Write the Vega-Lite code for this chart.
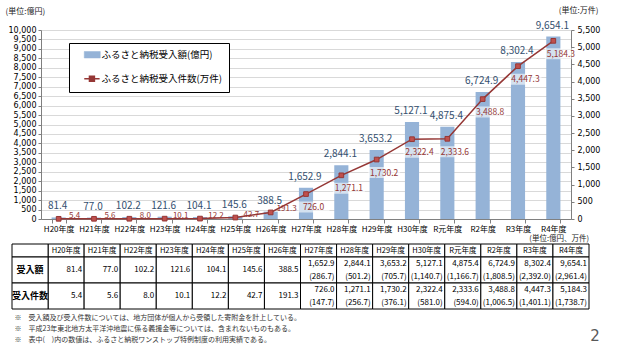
{
  "$schema": "https://vega.github.io/schema/vega-lite/v6.json",
  "padding": {"left": 5, "top": 6, "right": 5, "bottom": 5},
  "spacing": 2,
  "config": {"view": {"stroke": null}, "font": "Noto Sans CJK JP"},
  "title": {"text": "2", "orient": "bottom", "anchor": "end", "fontSize": 15, "fontWeight": "normal", "color": "#595959", "offset": -14, "font": "DejaVu Sans"},
  "datasets": {
    "main": [
      {"year": "H20年度", "amount": 81.4, "count": 5.4, "amountOS": null, "countOS": null},
      {"year": "H21年度", "amount": 77.0, "count": 5.6, "amountOS": null, "countOS": null},
      {"year": "H22年度", "amount": 102.2, "count": 8.0, "amountOS": null, "countOS": null},
      {"year": "H23年度", "amount": 121.6, "count": 10.1, "amountOS": null, "countOS": null},
      {"year": "H24年度", "amount": 104.1, "count": 12.2, "amountOS": null, "countOS": null},
      {"year": "H25年度", "amount": 145.6, "count": 42.7, "amountOS": null, "countOS": null},
      {"year": "H26年度", "amount": 388.5, "count": 191.3, "amountOS": null, "countOS": null},
      {"year": "H27年度", "amount": 1652.9, "count": 726.0, "amountOS": 286.7, "countOS": 147.7},
      {"year": "H28年度", "amount": 2844.1, "count": 1271.1, "amountOS": 501.2, "countOS": 256.7},
      {"year": "H29年度", "amount": 3653.2, "count": 1730.2, "amountOS": 705.7, "countOS": 376.1},
      {"year": "H30年度", "amount": 5127.1, "count": 2322.4, "amountOS": 1140.7, "countOS": 581.0},
      {"year": "R元年度", "amount": 4875.4, "count": 2333.6, "amountOS": 1166.7, "countOS": 594.0},
      {"year": "R2年度", "amount": 6724.9, "count": 3488.8, "amountOS": 1808.5, "countOS": 1006.5},
      {"year": "R3年度", "amount": 8302.4, "count": 4447.3, "amountOS": 2392.0, "countOS": 1401.1},
      {"year": "R4年度", "amount": 9654.1, "count": 5184.3, "amountOS": 2961.4, "countOS": 1738.7}
    ]
  },
  "vconcat": [
    {
      "width": 530,
      "height": 189,
      "data": {"name": "main"},
      "encoding": {
        "x": {"field": "year", "type": "ordinal", "sort": null,
          "scale": {"paddingInner": 0.6, "paddingOuter": 0.3},
          "axis": {"title": null, "labelAngle": 0, "labelFontSize": 8, "labelColor": "#000", "labelPadding": 2, "tickSize": 4, "tickBand": "extent", "domainColor": "#808080", "tickColor": "#808080", "grid": false}}
      },
      "layer": [
        {
          "encoding": {
            "y": {"field": "amount", "type": "quantitative",
              "scale": {"domain": [0, 10000], "nice": false},
              "axis": {"orient": "left", "values": [0,500,1000,1500,2000,2500,3000,3500,4000,4500,5000,5500,6000,6500,7000,7500,8000,8500,9000,9500,10000], "format": ",d", "grid": true, "gridColor": "#D9D9D9", "domainColor": "#7F7F7F", "tickColor": "#7F7F7F", "tickSize": 3, "labelPadding": 2, "labelFont": "DejaVu Sans", "labelFontSize": 8, "labelColor": "#000",
                "title": "(単位:億円)", "titleAngle": 0, "titleAlign": "left", "titleBaseline": "middle", "titleX": -36, "titleY": -19, "titleFontSize": 8, "titleFontWeight": "normal", "titleColor": "#222"}}
          },
          "layer": [
            {
              "mark": {"type": "bar"},
              "encoding": {
                "color": {"datum": "ふるさと納税受入額(億円)", "type": "nominal",
                  "scale": {"domain": ["ふるさと納税受入額(億円)", "ふるさと納税受入件数(万件)"], "range": ["#95B3D7", "#953735"]},
                  "legend": {"orient": "none", "legendX": 28, "legendY": 13, "title": null, "direction": "vertical", "fillColor": "#ffffff", "strokeColor": "#000000", "padding": 7, "rowPadding": 13, "symbolSize": 169, "labelOffset": 16, "labelFontSize": 9.5, "labelColor": "#000", "labelLimit": 300,
                    "encode": {"symbols": {"update": {
                      "shape": {"signal": "datum.value === 'ふるさと納税受入額(億円)' ? 'M0.54,-0.5H3V0.5H0.54Z' : 'M0.54,0H2.9M1.34,-0.38H2.1V0.38H1.34Z'"},
                      "fill": {"signal": "datum.value === 'ふるさと納税受入額(億円)' ? '#95B3D7' : '#C0504D'"},
                      "stroke": {"signal": "datum.value === 'ふるさと納税受入額(億円)' ? '#95B3D7' : '#953735'"},
                      "strokeWidth": {"signal": "datum.value === 'ふるさと納税受入額(億円)' ? 0.5 : 1.5"},
                      "opacity": {"value": 1},
                      "fillOpacity": {"value": 1}
                    }}}}
                }
              }
            },
            {
              "mark": {"type": "text", "dy": -11, "dx": -1, "fontSize": 10, "color": "#34506F"},
              "encoding": {"text": {"field": "amount", "type": "quantitative", "format": ",.1f"}}
            }
          ]
        },
        {
          "encoding": {
            "y": {"field": "count", "type": "quantitative",
              "scale": {"domain": [0, 5500], "nice": false},
              "axis": {"orient": "right", "values": [0,500,1000,1500,2000,2500,3000,3500,4000,4500,5000,5500], "format": ",d", "grid": false, "domainColor": "#7F7F7F", "tickColor": "#7F7F7F", "tickSize": 3, "labelPadding": 3, "labelFont": "DejaVu Sans", "labelFontSize": 8, "labelColor": "#000",
                "title": "(単位:万件)", "titleAngle": 0, "titleAlign": "right", "titleBaseline": "middle", "titleX": 27, "titleY": -20, "titleFontSize": 8, "titleFontWeight": "normal", "titleColor": "#222"}}
          },
          "layer": [
            {
              "transform": [{"filter": {"field": "amountOS", "valid": true}}],
              "mark": {"type": "point", "shape": "M-1.7,1.5H4.7V3.7H-1.7Z", "size": 100, "filled": true, "fill": "#ffffff", "fillOpacity": 0.6, "strokeWidth": 0}
            },
            {
              "mark": {"type": "line", "strokeWidth": 1.5},
              "encoding": {"color": {"datum": "ふるさと納税受入件数(万件)", "type": "nominal"}}
            },
            {
              "mark": {"type": "point", "shape": "square", "size": 22, "filled": true, "fill": "#C0504D", "stroke": "#953735", "strokeWidth": 1, "opacity": 1}
            },
            {
              "transform": [{"filter": {"not": {"field": "amountOS", "valid": true}}}],
              "mark": {"type": "text", "dx": 16, "dy": -3, "fontSize": 8, "color": "#943634"},
              "encoding": {"text": {"field": "count", "type": "quantitative", "format": ",.1f"}}
            },
            {
              "transform": [{"filter": {"field": "amountOS", "valid": true}}],
              "mark": {"type": "text", "dx": 7.5, "dy": 13, "fontSize": 8.5, "color": "#943634"},
              "encoding": {"text": {"field": "count", "type": "quantitative", "format": ",.1f"}}
            }
          ]
        }
      ],
      "resolve": {"scale": {"y": "independent"}}
    },
    {
      "width": 530,
      "height": 65,
      "data": {"name": "main"},
      "title": {"text": ["※　受入額及び受入件数については、地方団体が個人から受領した寄附金を計上している。", "※　平成23年東北地方太平洋沖地震に係る義援金等については、含まれないものもある。", "※　表中(　)内の数値は、ふるさと納税ワンストップ特例制度の利用実績である。"],
        "orient": "bottom", "anchor": "start", "frame": "bounds", "fontSize": 7, "fontWeight": "normal", "lineHeight": 11, "offset": 4, "dx": 3, "color": "#333333"},
      "encoding": {
        "x": {"field": "year", "type": "ordinal",
          "scale": {"domain": ["", "H20年度","H21年度","H22年度","H23年度","H24年度","H25年度","H26年度","H27年度","H28年度","H29年度","H30年度","R元年度","R2年度","R3年度","R4年度"], "range": [-29, 548], "paddingInner": 0, "paddingOuter": 0},
          "axis": null}
      },
      "layer": [
        {
          "mark": {"type": "rect", "fill": "#ffffff", "stroke": "#000000", "strokeWidth": 1},
          "encoding": {
            "y": {"datum": 0, "type": "quantitative", "scale": {"domain": [0, 5], "reverse": true, "nice": false, "zero": false}, "axis": null},
            "y2": {"datum": 1}
          }
        },
        {
          "mark": {"type": "rect", "fill": "#ffffff", "stroke": "#000000", "strokeWidth": 1},
          "encoding": {"y": {"datum": 1, "type": "quantitative"}, "y2": {"datum": 3}}
        },
        {
          "mark": {"type": "rect", "fill": "#ffffff", "stroke": "#000000", "strokeWidth": 1},
          "encoding": {"y": {"datum": 3, "type": "quantitative"}, "y2": {"datum": 5}}
        },
        {
          "mark": {"type": "text", "fontSize": 7.5, "color": "#000"},
          "encoding": {"y": {"datum": 0.5, "type": "quantitative"}, "text": {"field": "year"}}
        },
        {
          "transform": [{"filter": {"not": {"field": "amountOS", "valid": true}}}],
          "mark": {"type": "text", "align": "right", "dx": -2, "fontSize": 8, "color": "#000"},
          "encoding": {
            "x": {"field": "year", "type": "ordinal", "bandPosition": 1},
            "y": {"datum": 2, "type": "quantitative"},
            "text": {"field": "amount", "type": "quantitative", "format": ",.1f"}
          }
        },
        {
          "transform": [{"filter": {"not": {"field": "amountOS", "valid": true}}}],
          "mark": {"type": "text", "align": "right", "dx": -2, "fontSize": 8, "color": "#000"},
          "encoding": {
            "x": {"field": "year", "type": "ordinal", "bandPosition": 1},
            "y": {"datum": 4, "type": "quantitative"},
            "text": {"field": "count", "type": "quantitative", "format": ",.1f"}
          }
        },
        {
          "transform": [{"filter": {"field": "amountOS", "valid": true}}],
          "mark": {"type": "text", "align": "right", "dx": -2, "fontSize": 8, "color": "#000"},
          "encoding": {
            "x": {"field": "year", "type": "ordinal", "bandPosition": 1},
            "y": {"datum": 1.5, "type": "quantitative"},
            "text": {"field": "amount", "type": "quantitative", "format": ",.1f"}
          }
        },
        {
          "transform": [{"filter": {"field": "amountOS", "valid": true}}],
          "mark": {"type": "text", "align": "right", "dx": -2, "fontSize": 8, "color": "#000", "text": {"expr": "'(' + format(datum.amountOS, ',.1f') + ')'"}},
          "encoding": {
            "x": {"field": "year", "type": "ordinal", "bandPosition": 1},
            "y": {"datum": 2.5, "type": "quantitative"}
          }
        },
        {
          "transform": [{"filter": {"field": "amountOS", "valid": true}}],
          "mark": {"type": "text", "align": "right", "dx": -2, "fontSize": 8, "color": "#000"},
          "encoding": {
            "x": {"field": "year", "type": "ordinal", "bandPosition": 1},
            "y": {"datum": 3.5, "type": "quantitative"},
            "text": {"field": "count", "type": "quantitative", "format": ",.1f"}
          }
        },
        {
          "transform": [{"filter": {"field": "amountOS", "valid": true}}],
          "mark": {"type": "text", "align": "right", "dx": -2, "fontSize": 8, "color": "#000", "text": {"expr": "'(' + format(datum.countOS, ',.1f') + ')'"}},
          "encoding": {
            "x": {"field": "year", "type": "ordinal", "bandPosition": 1},
            "y": {"datum": 4.5, "type": "quantitative"}
          }
        },
        {
          "data": {"values": [{"year": ""}]},
          "layer": [
            {"mark": {"type": "rect", "fill": "#ffffff", "stroke": "#000000", "strokeWidth": 1}, "encoding": {"y": {"datum": 0, "type": "quantitative"}, "y2": {"datum": 1}}},
            {"mark": {"type": "rect", "fill": "#ffffff", "stroke": "#000000", "strokeWidth": 1}, "encoding": {"y": {"datum": 1, "type": "quantitative"}, "y2": {"datum": 3}}},
            {"mark": {"type": "rect", "fill": "#ffffff", "stroke": "#000000", "strokeWidth": 1}, "encoding": {"y": {"datum": 3, "type": "quantitative"}, "y2": {"datum": 5}}},
            {"mark": {"type": "text", "fontSize": 9, "fontWeight": "bold", "color": "#000", "text": "受入額"}, "encoding": {"y": {"datum": 2, "type": "quantitative"}}},
            {"mark": {"type": "text", "fontSize": 9, "fontWeight": "bold", "color": "#000", "text": "受入件数"}, "encoding": {"y": {"datum": 4, "type": "quantitative"}}}
          ]
        },
        {
          "data": {"values": [{"year": "R4年度"}]},
          "mark": {"type": "text", "align": "right", "fontSize": 7.5, "color": "#222", "text": "(単位:億円、万件)"},
          "encoding": {
            "x": {"field": "year", "type": "ordinal", "bandPosition": 1},
            "y": {"datum": -0.38, "type": "quantitative"}
          }
        }
      ]
    }
  ]
}
